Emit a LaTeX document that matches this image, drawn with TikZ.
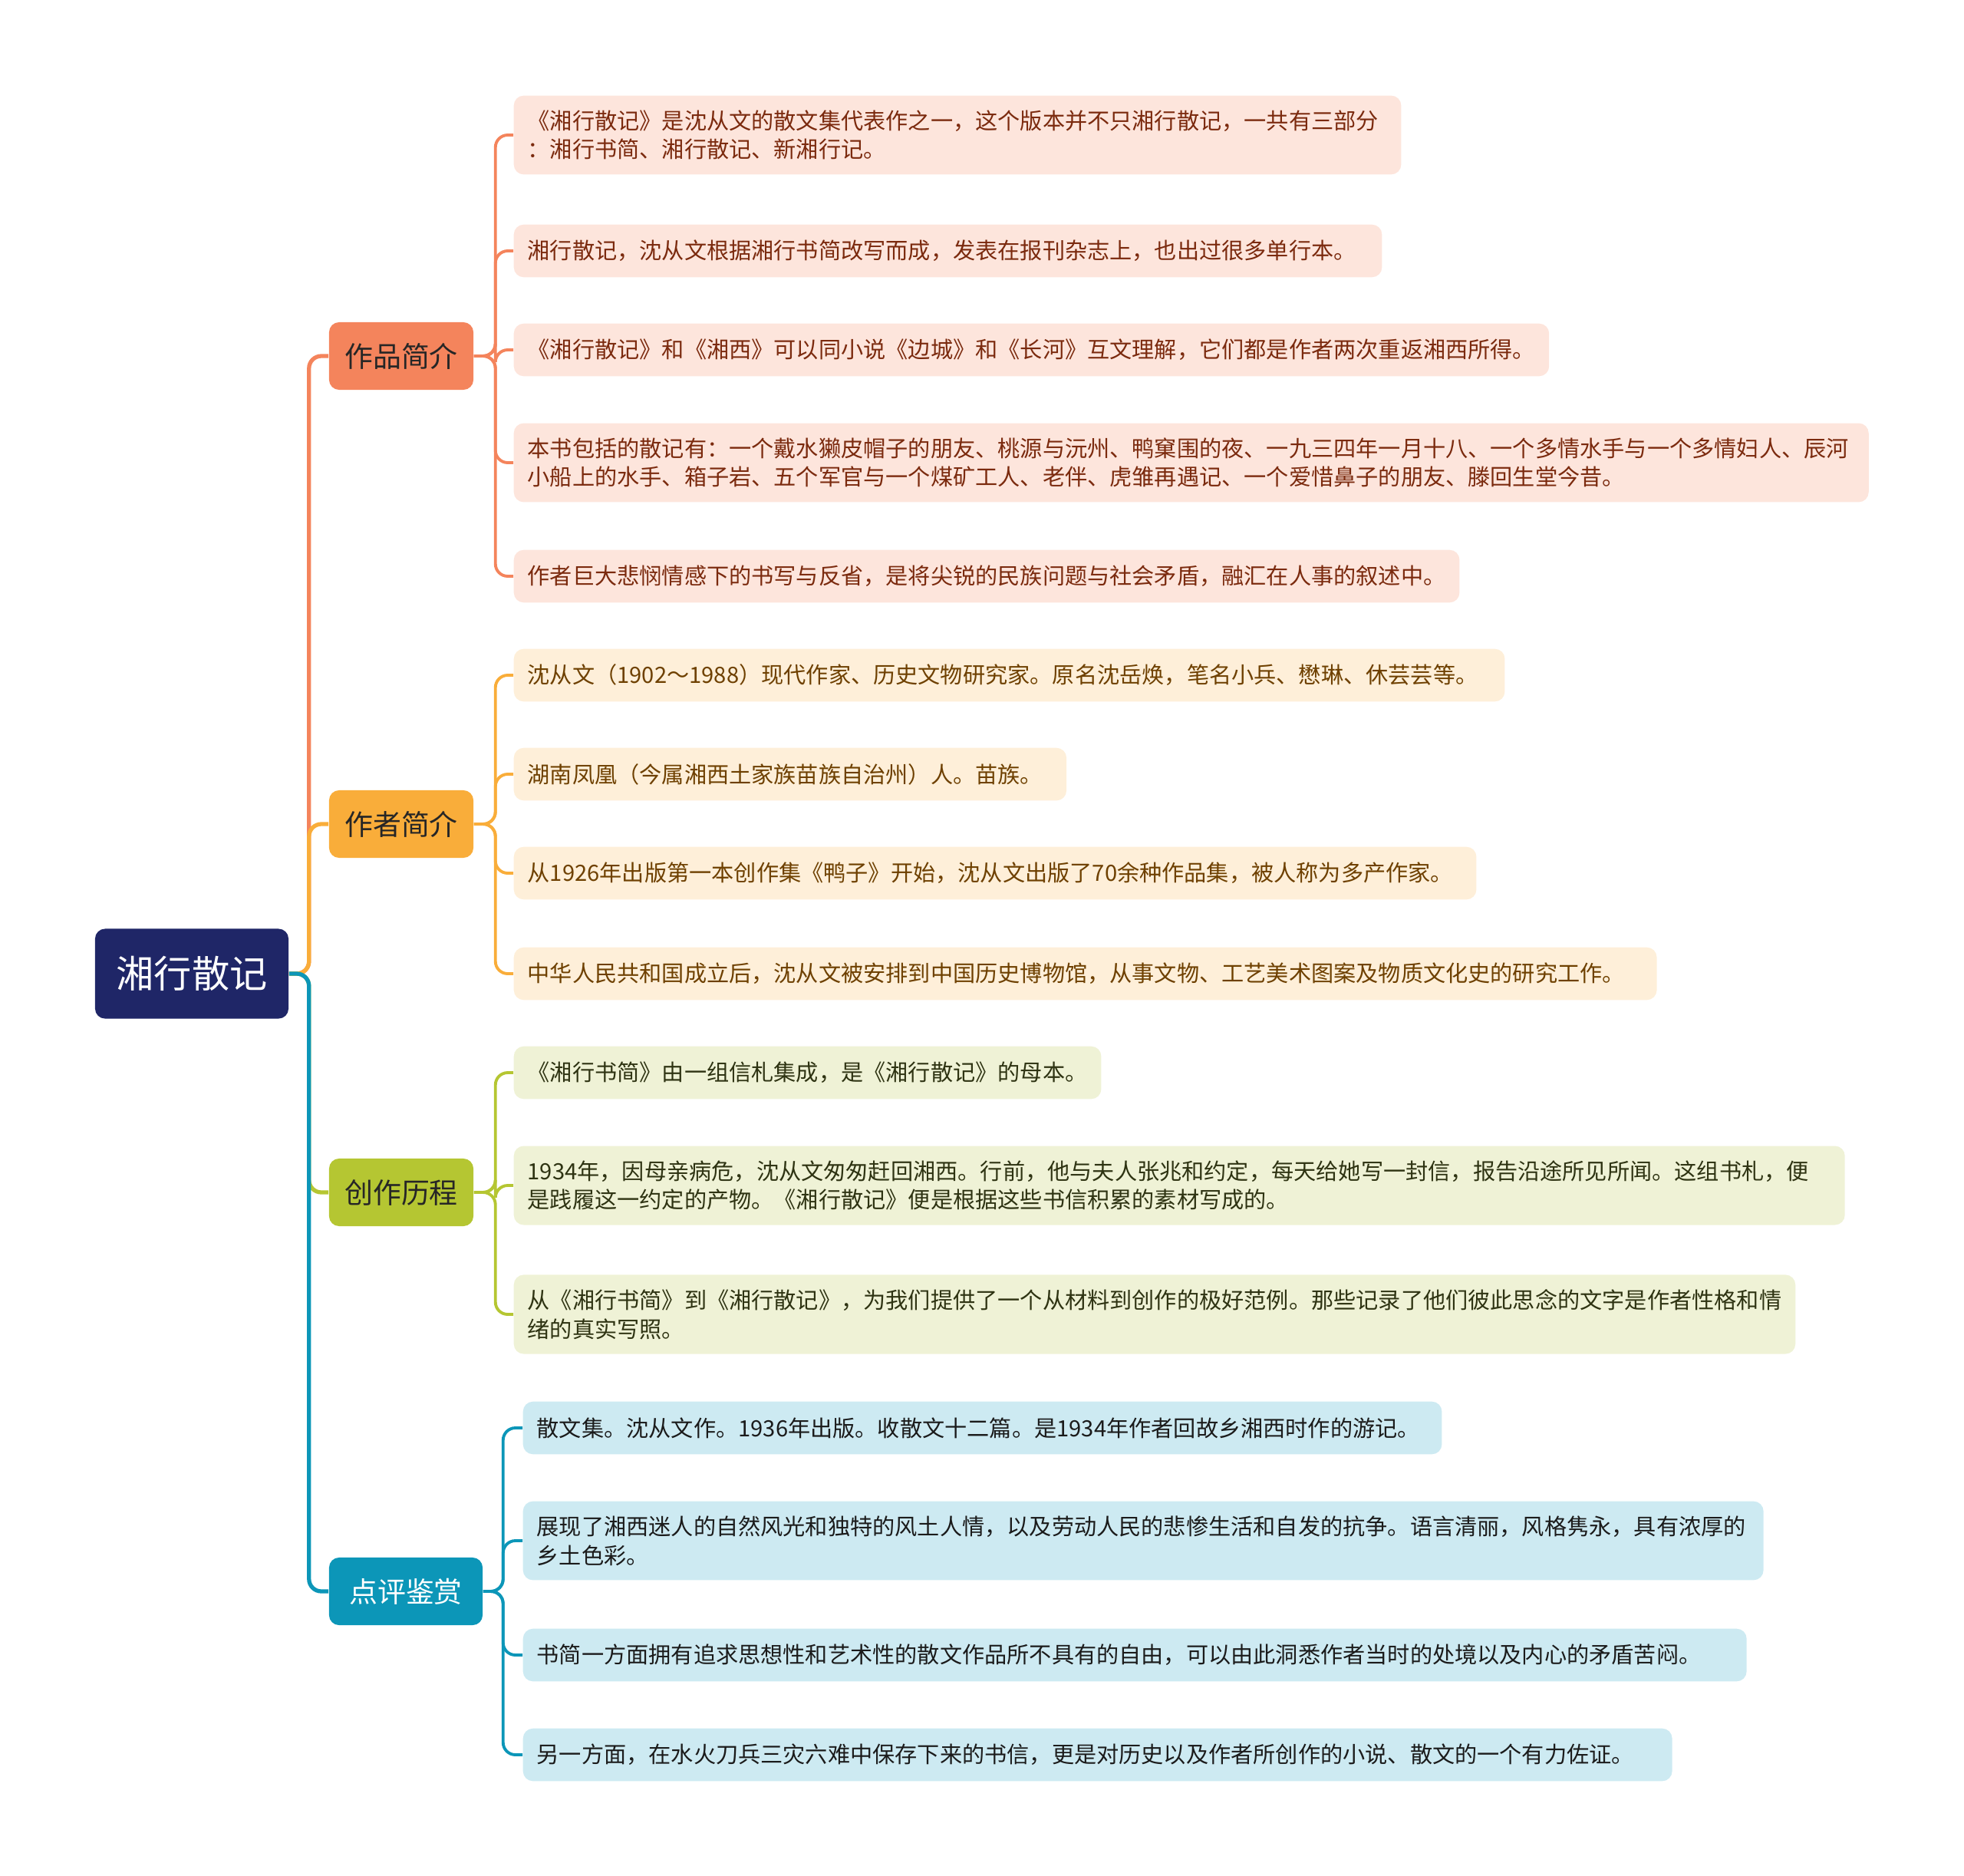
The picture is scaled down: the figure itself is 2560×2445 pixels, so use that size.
\documentclass[tikz,border=0pt]{standalone}
\usepackage{fontspec}
\setmainfont{Noto Sans CJK SC}

\definecolor{rootblue}{HTML}{1F2667}
\definecolor{coral}{HTML}{F4845C}
\definecolor{amber}{HTML}{F9AD3A}
\definecolor{olive}{HTML}{B5C632}
\definecolor{teal}{HTML}{0C96B8}
\definecolor{coralbg}{HTML}{FDE5DC}
\definecolor{amberbg}{HTML}{FEEFD9}
\definecolor{olivebg}{HTML}{EFF2D6}
\definecolor{tealbg}{HTML}{CDEAF2}
\definecolor{coraltx}{HTML}{7B2A0E}
\definecolor{ambertx}{HTML}{6E4000}
\definecolor{olivetx}{HTML}{2E3312}
\definecolor{tealtx}{HTML}{1B1B1B}

\tikzset{
	rootbox/.style={rounded corners=0.13cm, fill=rootblue, text=white,
		minimum width=2.52cm, minimum height=1.17cm, font=\fontsize{14}{16}\selectfont},
	topic/.style={rounded corners=0.13cm, minimum width=1.88cm, minimum height=0.88cm,
		inner xsep=0.2cm, font=\fontsize{10.5}{12}\selectfont},
	leaf/.style={rounded corners=0.13cm, anchor=west, align=left, minimum height=0.686cm,
		inner xsep=0.18cm, inner ysep=0.19cm, font=\fontsize{8.3}{10.7}\selectfont},
	link/.style={draw=#1, line width=1.5pt, rounded corners=0.16cm},
	twig/.style={draw=#1, line width=1.1pt, rounded corners=0.16cm},
}

\begin{document}
\begin{tikzpicture}[x=0.01cm, y=-0.01cm]
	\useasboundingbox (0,0) rectangle (2560,2445);
	% root and main topics
	\node[rootbox] (root) at (250,1269) {湘行散记};
	\node[topic, fill=coral, text=black!85] (zp) at (523,464) {作品简介};
	\node[topic, fill=amber, text=black!85] (zz) at (523,1074) {作者简介};
	\node[topic, fill=olive, text=black!85] (cz) at (523,1554) {创作历程};
	\node[topic, fill=teal, text=white, minimum width=2.0cm] (dp) at (529,2074) {点评鉴赏};

	% 作品简介
	\node[leaf, fill=coralbg, text=coraltx, text width=11.2cm] (zp1) at (669,176) {《湘行散记》是沈从文的散文集代表作之一，这个版本并不只湘行散记，一共有三部分\\：湘行书简、湘行散记、新湘行记。};
	\node[leaf, fill=coralbg, text=coraltx, text width=10.95cm] (zp2) at (669,327) {湘行散记，沈从文根据湘行书简改写而成，发表在报刊杂志上，也出过很多单行本。};
	\node[leaf, fill=coralbg, text=coraltx] (zp3) at (669,456) {《湘行散记》和《湘西》可以同小说《边城》和《长河》互文理解，它们都是作者两次重返湘西所得。};
	\node[leaf, fill=coralbg, text=coraltx, text width=17.29cm] (zp4) at (669,603) {本书包括的散记有：一个戴水獭皮帽子的朋友、桃源与沅州、鸭窠围的夜、一九三四年一月十八、一个多情水手与一个多情妇人、辰河\\小船上的水手、箱子岩、五个军官与一个煤矿工人、老伴、虎雏再遇记、一个爱惜鼻子的朋友、滕回生堂今昔。};
	\node[leaf, fill=coralbg, text=coraltx] (zp5) at (669,751) {作者巨大悲悯情感下的书写与反省，是将尖锐的民族问题与社会矛盾，融汇在人事的叙述中。};

	% 作者简介
	\node[leaf, fill=amberbg, text=ambertx, text width=12.55cm] (zz1) at (669,880) {沈从文（1902～1988）现代作家、历史文物研究家。原名沈岳焕，笔名小兵、懋琳、休芸芸等。};
	\node[leaf, fill=amberbg, text=ambertx, text width=6.84cm] (zz2) at (669,1009) {湖南凤凰（今属湘西土家族苗族自治州）人。苗族。};
	\node[leaf, fill=amberbg, text=ambertx, text width=12.18cm] (zz3) at (669,1138) {从1926年出版第一本创作集《鸭子》开始，沈从文出版了70余种作品集，被人称为多产作家。};
	\node[leaf, fill=amberbg, text=ambertx, text width=14.53cm] (zz4) at (669,1269) {中华人民共和国成立后，沈从文被安排到中国历史博物馆，从事文物、工艺美术图案及物质文化史的研究工作。};

	% 创作历程
	\node[leaf, fill=olivebg, text=olivetx] (cz1) at (669,1398) {《湘行书简》由一组信札集成，是《湘行散记》的母本。};
	\node[leaf, fill=olivebg, text=olivetx, text width=16.98cm] (cz2) at (669,1545) {1934年，因母亲病危，沈从文匆匆赶回湘西。行前，他与夫人张兆和约定，每天给她写一封信，报告沿途所见所闻。这组书札，便\\是践履这一约定的产物。《湘行散记》便是根据这些书信积累的素材写成的。};
	\node[leaf, fill=olivebg, text=olivetx] (cz3) at (669,1713) {从《湘行书简》到《湘行散记》，为我们提供了一个从材料到创作的极好范例。那些记录了他们彼此思念的文字是作者性格和情\\绪的真实写照。};

	% 点评鉴赏
	\node[leaf, fill=tealbg, text=tealtx, text width=11.61cm] (dp1) at (681,1861) {散文集。沈从文作。1936年出版。收散文十二篇。是1934年作者回故乡湘西时作的游记。};
	\node[leaf, fill=tealbg, text=tealtx, text width=15.8cm] (dp2) at (681,2008) {展现了湘西迷人的自然风光和独特的风土人情，以及劳动人民的悲惨生活和自发的抗争。语言清丽，风格隽永，具有浓厚的\\乡土色彩。};
	\node[leaf, fill=tealbg, text=tealtx, text width=15.58cm] (dp3) at (681,2157) {书简一方面拥有追求思想性和艺术性的散文作品所不具有的自由，可以由此洞悉作者当时的处境以及内心的矛盾苦闷。};
	\node[leaf, fill=tealbg, text=tealtx, text width=14.61cm] (dp4) at (681,2287) {另一方面，在水火刀兵三灾六难中保存下来的书信，更是对历史以及作者所创作的小说、散文的一个有力佐证。};

	% connectors
	\draw[link=coral] (root.east) -- ++(26,0) |- (zp.west);
	\draw[link=amber] (root.east) -- ++(26,0) |- (zz.west);
	\draw[link=olive] (root.east) -- ++(26,0) |- (cz.west);
	\draw[link=teal] (root.east) -- ++(26,0) |- (dp.west);
	\foreach \n in {zp1,zp2,zp3,zp4,zp5}
		\draw[twig=coral] (zp.east) -- ++(28,0) |- (\n.west);
	\foreach \n in {zz1,zz2,zz3,zz4}
		\draw[twig=amber] (zz.east) -- ++(28,0) |- (\n.west);
	\foreach \n in {cz1,cz2,cz3}
		\draw[twig=olive] (cz.east) -- ++(28,0) |- (\n.west);
	\foreach \n in {dp1,dp2,dp3,dp4}
		\draw[twig=teal] (dp.east) -- ++(26,0) |- (\n.west);
\end{tikzpicture}
\end{document}
